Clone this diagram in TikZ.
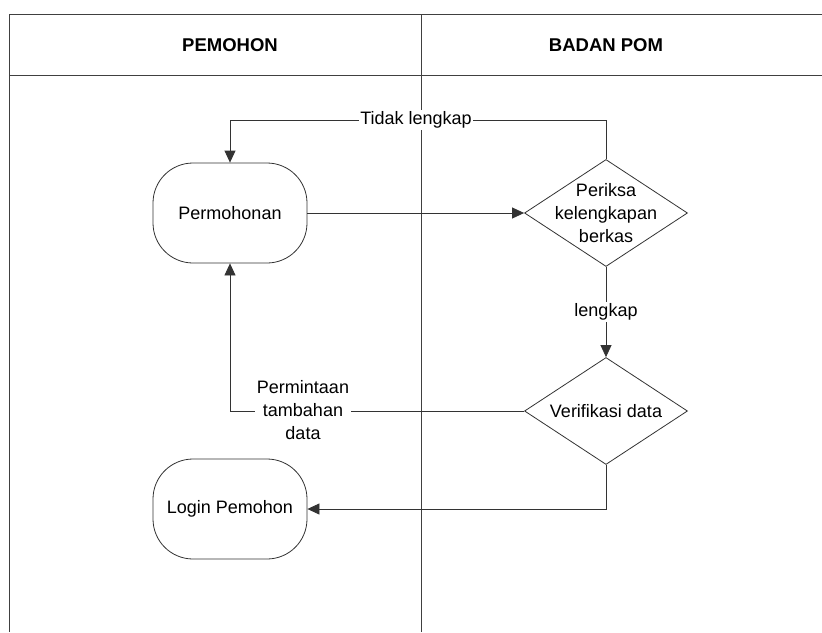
\documentclass[tikz,border=0pt]{standalone}
\usepackage{fontspec}
\setmainfont{Liberation Sans}
\usetikzlibrary{shapes.geometric,arrows.meta}
\begin{document}
\begin{tikzpicture}[x=1pt,y=-1pt,
  every node/.style={font=\fontsize{18}{23}\selectfont},
  frameline/.style={draw=black!75,line width=0.9pt},
  conn/.style={draw=black!80,line width=0.8pt},
  arr/.style={conn,-{Triangle[length=12pt,width=11pt]}},
  term/.style={draw=black!80,line width=0.8pt,rounded corners=40pt,minimum width=154pt,minimum height=100pt,inner sep=0pt,fill=white},
  decision/.style={draw=black!80,line width=0.8pt,diamond,minimum width=163pt,minimum height=107pt,inner sep=0pt,fill=white},
  lbl/.style={fill=white,inner sep=1.5pt,align=center},
  hdr/.style={font=\fontsize{18.5}{21}\selectfont\bfseries}]
\useasboundingbox (0,0) rectangle (822,632);
% frame
\coordinate (tl) at (9,14.5);
\coordinate (tr) at (822,14.5);
\coordinate (bl) at (9,632);
\coordinate (hl) at (9,75);
\coordinate (hr) at (822,75);
\coordinate (dt) at (421,14.5);
\coordinate (db) at (421,632);
\draw[frameline] (tl) -- (tr);
\draw[frameline] (tl) -- (bl);
\draw[frameline] (hl) -- (hr);
\draw[frameline] (dt) -- (db);
\node[hdr] (h1) at (230,45) {PEMOHON};
\node[hdr] (h2) at (606,45) {BADAN POM};
% nodes
\node[term] (perm) at (230,213) {Permohonan};
\node[term] (login) at (230,509) {Login Pemohon};
\node[decision] (d1) at (606,213) {};
\node[align=center] (d1t) at (606,213) {Periksa\\kelengkapan\\berkas};
\node[decision] (d2) at (606,411) {};
\node (d2t) at (606,411) {Verifikasi data};
% connectors
\coordinate (c1) at (606,120);
\coordinate (c2) at (230,120);
\draw[arr] (perm.east) -- (d1.west);
\draw[arr] (d1.north) -- (c1) -- (c2) -- (perm.north);
\draw[arr] (d1.south) -- (d2.north);
\draw[arr] (d2.west) -| (perm.south);
\draw[arr] (d2.south) |- (login.east);
% labels
\node[lbl] (ltl) at (416,120) {Tidak lengkap};
\node[lbl] (llk) at (606,312) {lengkap};
\node[lbl] (lpt) at (303,410) {Permintaan\\tambahan\\data};
\end{tikzpicture}
\end{document}
